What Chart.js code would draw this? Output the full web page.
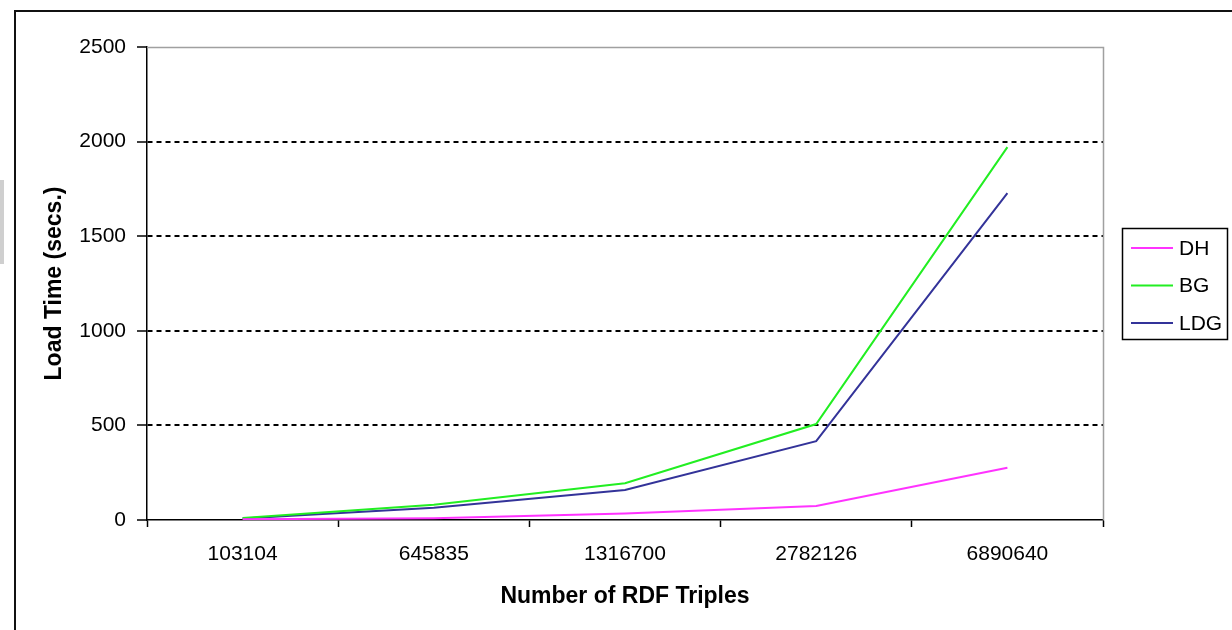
<!DOCTYPE html>
<html>
<head>
<meta charset="utf-8">
<title>Load time vs RDF triples</title>
<script src="https://cdn.jsdelivr.net/npm/chart.js@4/dist/chart.umd.min.js"></script>
<style>
  html, body { margin: 0; padding: 0; background: #fff; }
  #wrap { position: relative; width: 1232px; height: 630px; }
</style>
</head>
<body>
<div id="wrap"><canvas id="loadChart" width="1232" height="630"></canvas></div>
<script>
  // categories and series
  var TRIPLES = ['103104', '645835', '1316700', '2782126', '6890640'];
  var DH = [4, 9, 35, 74, 276];
  var BG = [10, 80, 194, 507, 1971];
  var LDG = [8, 65, 159, 417, 1728];
  var Y_TICKS = [0, 500, 1000, 1500, 2000, 2500];

  var FONT = "'Liberation Sans', Arial, sans-serif";

  /* frame, plot border and legend box, drawn around the chart */
  var decor = {
    id: 'decor',
    beforeDatasetsDraw: function (chart) {
      var c = chart.ctx, a = chart.chartArea;
      c.save();
      c.strokeStyle = '#a0a0a0';
      c.lineWidth = 1.5;
      c.beginPath();
      c.moveTo(a.left, a.top + 0.5);
      c.lineTo(a.right + 0.5, a.top + 0.5);
      c.lineTo(a.right + 0.5, a.bottom);
      c.stroke();
      c.restore();
    },
    afterDraw: function (chart) {
      var c = chart.ctx;
      c.save();
      // outer chart frame (runs off the right and bottom edge)
      c.strokeStyle = '#111';
      c.lineWidth = 2;
      c.strokeRect(15, 11, 1300, 700);
      c.fillStyle = '#cfcfcf';
      c.fillRect(0, 180, 4, 84);

      // legend
      c.lineWidth = 1.5;
      c.strokeStyle = '#000';
      c.strokeRect(1122.5, 228.5, 105, 111);
      c.font = '21px ' + FONT;
      c.textBaseline = 'middle';
      c.fillStyle = '#000';
      chart.data.datasets.forEach(function (ds, i) {
        var y = 248 + i * 37.5;
        c.strokeStyle = ds.borderColor;
        c.lineWidth = 2;
        c.beginPath();
        c.moveTo(1131, y);
        c.lineTo(1173, y);
        c.stroke();
        c.fillText(ds.label, 1179, y + 1);
      });
      c.restore();
    }
  };

  var series = function (label, data, color) {
    return {
      label: label,
      data: data,
      borderColor: color,
      backgroundColor: color,
      borderWidth: 2,
      pointRadius: 0,
      tension: 0,
      fill: false
    };
  };

  new Chart(document.getElementById('loadChart').getContext('2d'), {
    type: 'line',
    data: {
      labels: TRIPLES,
      datasets: [
        series('DH', DH, '#ff33ff'),
        series('BG', BG, '#22ee22'),
        series('LDG', LDG, '#333399')
      ]
    },
    options: {
      responsive: false,
      animation: false,
      events: [],
      layout: { padding: { left: 20, top: 47, right: 129, bottom: 0 } },
      plugins: { legend: { display: false }, tooltip: { enabled: false } },
      scales: {
        x: {
          offset: true,
          afterFit: function (s) { s.height = 110; },
          grid: {
            offset: true,
            drawOnChartArea: false,
            drawTicks: true,
            tickLength: 7,
            tickColor: '#000',
            tickWidth: 1.5
          },
          border: { display: true, color: '#000', width: 1.5 },
          ticks: {
            color: '#000',
            font: { family: FONT, size: 21 },
            padding: 15,
            maxRotation: 0,
            autoSkip: false
          },
          title: {
            display: true,
            text: 'Number of RDF Triples',
            color: '#000',
            font: { family: FONT, size: 23, weight: 'bold' },
            padding: { top: 0, bottom: 20 }
          }
        },
        y: {
          min: Y_TICKS[0],
          max: Y_TICKS[Y_TICKS.length - 1],
          afterFit: function (s) { s.width = 127; },
          afterBuildTicks: function (s) {
            s.ticks = Y_TICKS.map(function (v) { return { value: v }; });
          },
          grid: {
            color: function (ctx) {
              var v = ctx.tick && ctx.tick.value;
              return (v === 0 || v === 2500) ? 'rgba(0,0,0,0)' : '#000';
            },
            lineWidth: 2,
            drawTicks: true,
            tickLength: 10,
            tickColor: '#000',
            tickWidth: 1.5
          },
          border: { display: true, color: '#000', width: 1.5, dash: [5, 4] },
          ticks: {
            color: '#000',
            font: { family: FONT, size: 21 },
            padding: 11,
            callback: function (v) { return String(v); }
          },
          title: {
            display: true,
            text: 'Load Time (secs.)',
            color: '#000',
            font: { family: FONT, size: 23, weight: 'bold' },
            padding: { top: 21, bottom: 0 }
          }
        }
      }
    },
    plugins: [decor]
  });
</script>
</body>
</html>
